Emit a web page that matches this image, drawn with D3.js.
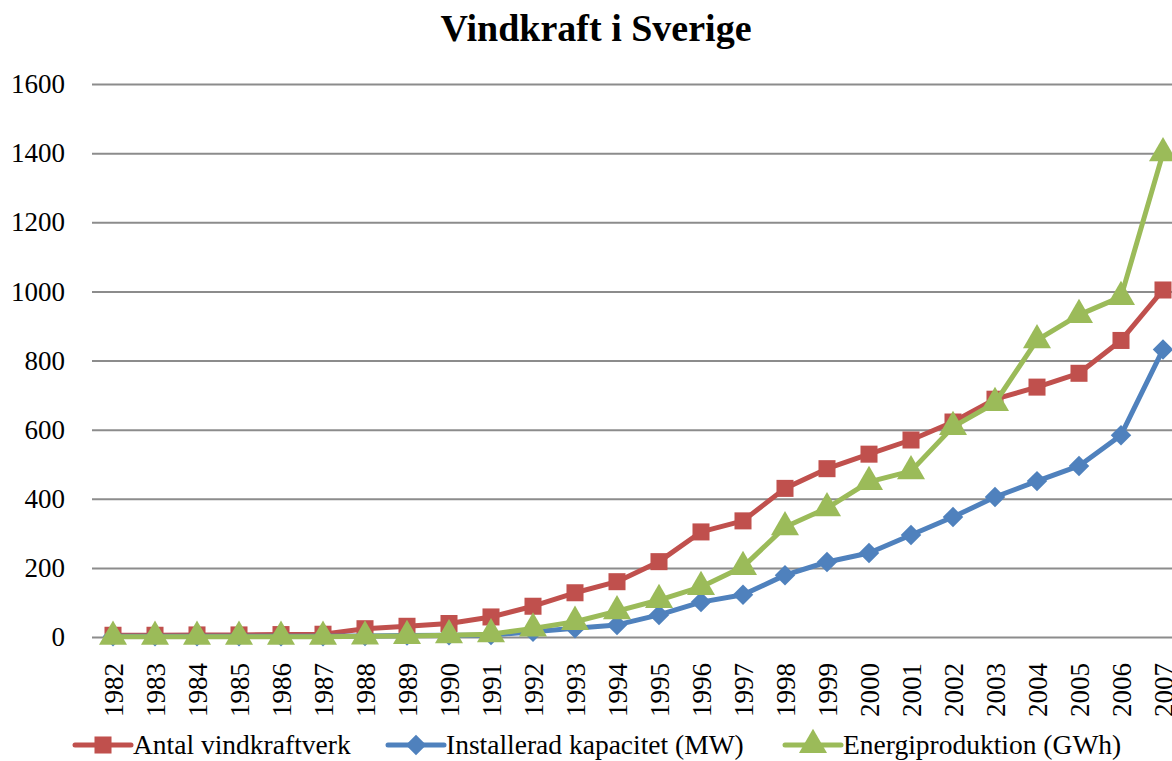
<!DOCTYPE html>
<html>
<head>
<meta charset="utf-8">
<script src="https://cdn.jsdelivr.net/npm/d3@7"></script>
<style>
  body { margin: 0; background: #fff; overflow: hidden; }
  svg text { font-family: "Liberation Serif", "DejaVu Serif", serif; fill: #000; }
</style>
</head>
<body>
<div id="chart"></div>
<script>
// Data
var years = ['1982', '1983', '1984', '1985', '1986', '1987', '1988', '1989', '1990', '1991', '1992', '1993',
    '1994', '1995', '1996', '1997', '1998', '1999', '2000', '2001', '2002', '2003', '2004', '2005', '2006', '2007'];
var antal = [5, 5, 6, 6, 7, 8, 24, 31, 39, 58, 89, 128, 160, 218, 304, 336, 430, 487, 529, 570, 622, 688, 723, 763, 858, 1004];
var kapacitet = [2, 2, 2, 2, 2, 2, 3, 4, 5, 6, 15, 25, 35, 64, 101, 122, 179, 217, 243, 295, 347, 405, 451, 495, 584, 832];
var energi = [1, 1, 1, 1, 1, 1, 2, 3, 5, 8, 25, 44, 75, 107, 145, 203, 318, 373, 449, 480, 608, 677, 859, 932, 984, 1400];
var yTicks = [0, 200, 400, 600, 800, 1000, 1200, 1400, 1600];
var seriesNames = ['Antal vindkraftverk', 'Installerad kapacitet (MW)', 'Energiproduktion (GWh)'];

var svgWidth = 1172;
var svgHeight = 761;
var margin = { top: 84, left: 92 };
var chartWidth = 42 * years.length;
var chartHeight = 553;

var svg = d3.select('#chart')
    .append('svg')
    .attr('width', svgWidth)
    .attr('height', svgHeight);

// Title
svg.append('text')
    .attr('x', 596)
    .attr('y', 41)
    .attr('text-anchor', 'middle')
    .style('font-size', '38px')
    .style('font-weight', 'bold')
    .text('Vindkraft i Sverige');

var chartGroup = svg.append('g')
    .attr('transform', `translate(${margin.left}, ${margin.top})`);

// Scales
var xScale = d3.scalePoint()
    .domain(years)
    .range([0, chartWidth])
    .padding(0.5);

var yScale = d3.scaleLinear()
    .domain([0, 1600])
    .range([chartHeight, 0]);

// Gridlines
chartGroup.append('g')
    .call(d3.axisLeft(yScale).tickValues(yTicks).tickSize(-chartWidth).tickFormat(''))
    .call(g => g.select('.domain').remove())
    .selectAll('line')
    .attr('stroke', '#8c8c8c')
    .attr('stroke-width', 2);

// Y labels
var yAxis = chartGroup.append('g')
    .call(d3.axisLeft(yScale).tickValues(yTicks).tickFormat(d3.format('d')).tickSize(0).tickPadding(27))
    .attr('font-family', null)
    .attr('font-size', null);
yAxis.select('.domain').remove();
yAxis.selectAll('text')
    .style('font-size', '27px')
    .style('fill', '#000');

// X labels (2007 runs past the right edge, as in the original)
var xAxis = chartGroup.append('g')
    .attr('transform', `translate(0, ${chartHeight})`)
    .call(d3.axisBottom(xScale).tickSize(0))
    .attr('font-family', null)
    .attr('font-size', null);
xAxis.select('.domain').remove();
xAxis.selectAll('text')
    .style('font-size', '27px')
    .style('fill', '#000')
    .attr('text-anchor', 'end')
    .attr('dy', '0.35em')
    .attr('transform', 'translate(0, 26) rotate(-90)')
    .attr('x', 0)
    .attr('y', 0);

var colors = ['#c0504d', '#4f81bd', '#9bbb59'];
var allSeries = [antal, kapacitet, energi];
var shapes = [d3.symbolSquare, d3.symbolSquare, d3.symbolTriangle];
var sizes = [290, 210, 340];
var rotations = [0, 45, 0];

var line = d3.line()
    .x((d, i) => xScale(years[i]))
    .y(d => yScale(d));

allSeries.forEach(function(values, s) {
    chartGroup.append('path')
        .datum(values)
        .attr('d', line)
        .attr('fill', 'none')
        .attr('stroke', colors[s])
        .attr('stroke-width', 5)
        .attr('stroke-linejoin', 'round');

    chartGroup.selectAll('.marker' + s)
        .data(values)
        .enter()
        .append('path')
        .attr('class', 'marker' + s)
        .attr('transform', (d, i) => `translate(${xScale(years[i])}, ${yScale(d)}) rotate(${rotations[s]})`)
        .attr('d', d3.symbol().type(shapes[s]).size(sizes[s]))
        .attr('fill', colors[s]);
});

// Legend
var legendX = [75, 388, 785];
var legend = svg.append('g');
seriesNames.forEach(function(name, s) {
    var g = legend.append('g').attr('transform', `translate(${legendX[s]}, 745)`);
    g.append('line')
        .attr('x1', 0).attr('x2', 56)
        .attr('stroke', colors[s])
        .attr('stroke-width', 5)
        .attr('stroke-linecap', 'round');
    g.append('path')
        .attr('transform', `translate(28, 0) rotate(${rotations[s]})`)
        .attr('d', d3.symbol().type(shapes[s]).size(sizes[s]))
        .attr('fill', colors[s]);
    g.append('text')
        .attr('x', 58)
        .attr('y', 0)
        .attr('dy', '0.32em')
        .style('font-size', '27.5px')
        .text(name);
});
</script>
</body>
</html>
